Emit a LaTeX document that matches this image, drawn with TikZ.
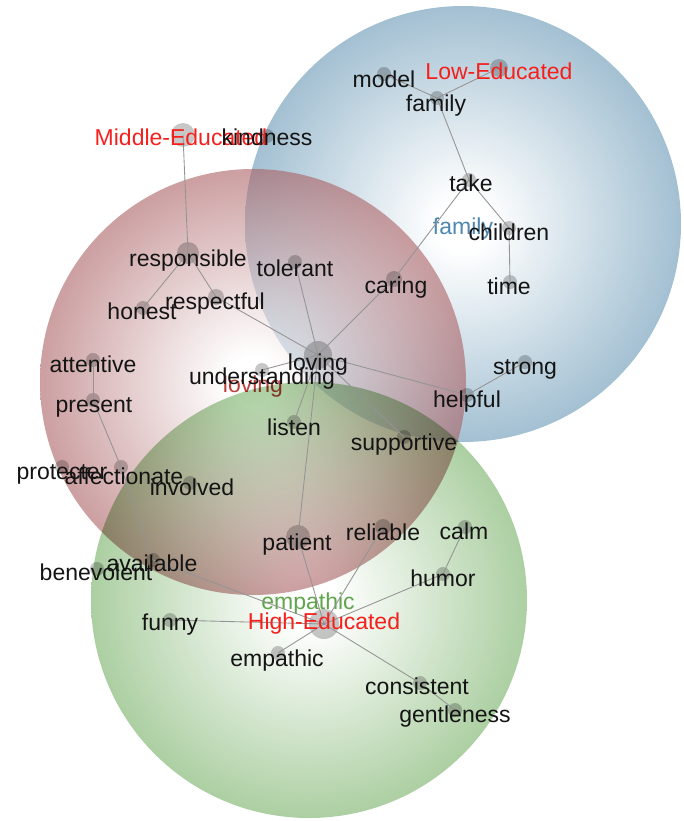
\documentclass[tikz,border=0pt]{standalone}
\usepackage{fontspec}
\setmainfont{Liberation Sans}
\definecolor{bluec}{RGB}{163,192,210}
\definecolor{redc}{RGB}{170,95,98}
\definecolor{greenc}{RGB}{172,207,162}
\definecolor{lblred}{RGB}{245,32,28}
\definecolor{famblue}{RGB}{78,135,175}
\definecolor{lovred}{RGB}{190,62,58}
\definecolor{empgreen}{RGB}{95,165,75}
\pgfdeclareradialshading{blueshade}{\pgfpoint{0bp}{0bp}}{color(0bp)=(white); color(3bp)=(white); color(25bp)=(bluec); color(50bp)=(bluec)}
\pgfdeclareradialshading{redshade}{\pgfpoint{0bp}{0bp}}{color(0bp)=(white); color(3bp)=(white); color(25bp)=(redc); color(50bp)=(redc)}
\pgfdeclareradialshading{greenshade}{\pgfpoint{0bp}{0bp}}{color(0bp)=(white); color(3bp)=(white); color(25bp)=(greenc); color(50bp)=(greenc)}
\begin{document}
\begin{tikzpicture}[x=0.75pt,y=-0.75pt,
  kdot/.style={circle,fill=black,fill opacity=0.22,draw=none,inner sep=0pt,minimum size=#1*1.5pt},
  word/.style={font=\fontsize{17.25}{20}\selectfont,text height=12.4pt,text depth=3.45pt,inner sep=0pt,text=black!92,yshift=-1.5pt},
  grouplbl/.style={word,text=lblred},
  circlbl/.style={word},
  edge/.style={draw=black!42,line width=0.65pt}]
\useasboundingbox (0,0) rectangle (684,821);
% ---------- circles ----------
\shade[shading=blueshade] (463,224) circle (218);
\node[circlbl,text=famblue] (c-family) at (463,227) {family};
\shade[shading=redshade,fill opacity=0.6] (253,382) circle (213);
\node[circlbl,text=lovred] (c-loving) at (253,385) {loving};
\begin{scope}[blend mode=multiply]
  \shade[shading=greenshade] (309,600) circle (218);
\end{scope}
\node[circlbl,text=empgreen] (c-empathic) at (308,602) {empathic};
% ---------- dots ----------
\node[kdot=12] (mid) at (183,135) {};
\node[kdot=7] (kindness) at (267,136) {};
\node[kdot=11] (responsible) at (188,253) {};
\node[kdot=7] (honest) at (143,308) {};
\node[kdot=8] (respectful) at (216,297) {};
\node[kdot=7] (tolerant) at (295,262) {};
\node[kdot=8] (caring) at (394,279) {};
\node[kdot=9] (low) at (499,68) {};
\node[kdot=7] (model) at (384,74) {};
\node[kdot=7] (family) at (437,98) {};
\node[kdot=7] (take) at (469,180) {};
\node[kdot=7] (children) at (509,228) {};
\node[kdot=7] (time) at (510,282) {};
\node[kdot=7] (strong) at (525,362) {};
\node[kdot=7] (helpful) at (467,395) {};
\node[kdot=14] (loving) at (318,355) {};
\node[kdot=7] (understanding) at (262,370) {};
\node[kdot=7] (attentive) at (93,360) {};
\node[kdot=7] (present) at (93,400) {};
\node[kdot=7] (protecter) at (62,467) {};
\node[kdot=7] (affectionate) at (121,467) {};
\node[kdot=7] (involved) at (190,483) {};
\node[kdot=7] (listen) at (294,422) {};
\node[kdot=7] (supportive) at (404,437) {};
\node[kdot=12] (patient) at (298,537) {};
\node[kdot=8] (reliable) at (383,527) {};
\node[kdot=7] (calm) at (465,527) {};
\node[kdot=7] (humor) at (443,574) {};
\node[kdot=15] (high) at (324,624) {};
\node[kdot=7] (empathic) at (278,653) {};
\node[kdot=7] (consistent) at (420,683) {};
\node[kdot=7] (gentleness) at (455,710) {};
\node[kdot=7] (funny) at (170,620) {};
\node[kdot=7] (available) at (153,560) {};
\node[kdot=7] (benevolent) at (97,569) {};
% ---------- edges ----------
\draw[edge] (mid.center) -- (responsible.center);
\draw[edge] (responsible.center) -- (honest.center);
\draw[edge] (responsible.center) -- (respectful.center);
\draw[edge] (respectful.center) -- (loving.center);
\draw[edge] (tolerant.center) -- (loving.center);
\draw[edge] (caring.center) -- (loving.center);
\draw[edge] (caring.center) -- (take.center);
\draw[edge] (take.center) -- (family.center);
\draw[edge] (family.center) -- (model.center);
\draw[edge] (family.center) -- (low.center);
\draw[edge] (take.center) -- (children.center);
\draw[edge] (children.center) -- (time.center);
\draw[edge] (loving.center) -- (understanding.center);
\draw[edge] (loving.center) -- (helpful.center);
\draw[edge] (helpful.center) -- (strong.center);
\draw[edge] (loving.center) -- (supportive.center);
\draw[edge] (loving.center) -- (listen.center);
\draw[edge] (loving.center) -- (patient.center);
\draw[edge] (patient.center) -- (high.center);
\draw[edge] (high.center) -- (reliable.center);
\draw[edge] (high.center) -- (humor.center);
\draw[edge] (humor.center) -- (calm.center);
\draw[edge] (high.center) -- (empathic.center);
\draw[edge] (high.center) -- (consistent.center);
\draw[edge] (consistent.center) -- (gentleness.center);
\draw[edge] (high.center) -- (funny.center);
\draw[edge] (high.center) -- (available.center);
\draw[edge] (available.center) -- (affectionate.center);
\draw[edge] (affectionate.center) -- (present.center);
\draw[edge] (present.center) -- (attentive.center);
% ---------- texts ----------
\node[grouplbl] (mid-t) at (181,138) {Middle-Educated};
\node[word] (kindness-t) at (267,138) {kindness};
\node[word] (responsible-t) at (188,259) {responsible};
\node[word] (honest-t) at (142,312) {honest};
\node[word] (respectful-t) at (215,302) {respectful};
\node[word] (tolerant-t) at (295,269) {tolerant};
\node[word] (caring-t) at (396,286) {caring};
\node[grouplbl] (low-t) at (499,72) {Low-Educated};
\node[word] (model-t) at (384,80) {model};
\node[word] (family-t) at (436,104) {family};
\node[word] (take-t) at (471,184) {take};
\node[word] (children-t) at (509,233) {children};
\node[word] (time-t) at (509,287) {time};
\node[word] (strong-t) at (525,367) {strong};
\node[word] (helpful-t) at (467,400) {helpful};
\node[word] (loving-t) at (318,363) {loving};
\node[word] (understanding-t) at (262,377) {understanding};
\node[word] (attentive-t) at (93,365) {attentive};
\node[word] (present-t) at (94,405) {present};
\node[word] (protecter-t) at (62,472) {protecter};
\node[word] (affectionate-t) at (124,477) {affectionate};
\node[word] (involved-t) at (192,488) {involved};
\node[word] (listen-t) at (294,428) {listen};
\node[word] (supportive-t) at (404,443) {supportive};
\node[word] (patient-t) at (297,543) {patient};
\node[word] (reliable-t) at (383,533) {reliable};
\node[word] (calm-t) at (464,532) {calm};
\node[word] (humor-t) at (443,579) {humor};
\node[grouplbl] (high-t) at (324,622) {High-Educated};
\node[word] (empathic-t) at (277,659) {empathic};
\node[word] (consistent-t) at (417,687) {consistent};
\node[word] (gentleness-t) at (455,715) {gentleness};
\node[word] (funny-t) at (170,623) {funny};
\node[word] (available-t) at (152,564) {available};
\node[word] (benevolent-t) at (96,573) {benevolent};
\end{tikzpicture}
\end{document}
